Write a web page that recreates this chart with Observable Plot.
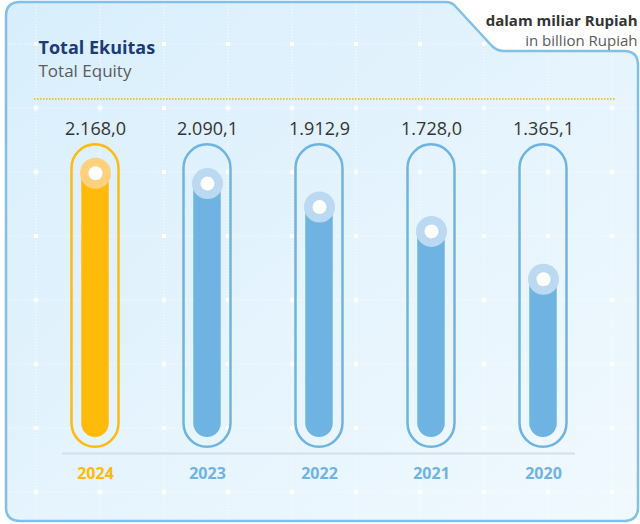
<!DOCTYPE html>
<html><head><meta charset="utf-8">
<script src="https://cdn.jsdelivr.net/npm/d3@7"></script>
<script src="https://cdn.jsdelivr.net/npm/@observablehq/plot@0.6"></script>
<style>
html,body{margin:0;padding:0;background:#ffffff;}
#chart{width:640px;height:524px;}
</style></head><body><div id="chart"></div>
<script>
// ---- data ----
const years = ["2024", "2023", "2022", "2021", "2020"];
const values = [2168.0, 2090.1, 1912.9, 1728.0, 1365.1];
const valueLabels = ["2.168,0", "2.090,1", "1.912,9", "1.728,0", "1.365,1"];
const titleId = "Total Ekuitas";
const titleEn = "Total Equity";
const unitId = "dalam miliar Rupiah";
const unitEn = "in billion Rupiah";

const data = years.map((year, i) => ({year, value: values[i], label: valueLabels[i], current: i === 0}));

// ---- styles ----
const FONT = "'Open Sans', Roboto, sans-serif";
const mainColor = d => d.current ? "#ffba0a" : "#6eb3e2";
const lightColor = d => d.current ? "#ffd17e" : "#bbd9f0";
const trackTop = 2384;   // track extents in value units
const trackBottom = 93;

// decorative card background (not data)
function card() {
  const g = d3.create("svg:g");
  const defs = g.append("defs");
  const grad = defs.append("linearGradient").attr("id", "cardfill")
    .attr("x1", "0").attr("y1", "0").attr("x2", "1").attr("y2", "1");
  grad.append("stop").attr("offset", "0").attr("stop-color", "#d8eefc");
  grad.append("stop").attr("offset", "1").attr("stop-color", "#f1f9fe");
  const r = 14;
  const d = `M6,${2 + r} Q6,2 ${6 + r},2 L446,2 Q452,2 456,7 L492,46 Q497,51 504,51 L${638 - r},51 Q638,51 638,${51 + r} L638,${521 - r} Q638,521 ${638 - r},521 L${6 + r},521 Q6,521 6,${521 - r} Z`;
  defs.append("clipPath").attr("id", "cardclip").append("path").attr("d", d);
  g.append("path").attr("d", d).attr("fill", "url(#cardfill)");
  const grid = g.append("g").attr("clip-path", "url(#cardclip)");
  const gx = d3.range(36, 640, 64), gy = d3.range(44, 524, 64);
  for (const x of gx) grid.append("line").attr("x1", x).attr("x2", x).attr("y1", 0).attr("y2", 524)
    .attr("stroke", "#ffffff").attr("stroke-width", 1).attr("stroke-dasharray", "1,2").attr("opacity", 0.9);
  for (const y of gy) grid.append("line").attr("y1", y).attr("y2", y).attr("x1", 0).attr("x2", 640)
    .attr("stroke", "#ffffff").attr("stroke-width", 1).attr("stroke-dasharray", "1,2").attr("opacity", 0.9);
  for (const x of gx) for (const y of gy)
    grid.append("rect").attr("x", x - 2).attr("y", y - 2).attr("width", 4).attr("height", 4).attr("fill", "#ffffff");
  g.append("path").attr("d", d).attr("fill", "none").attr("stroke", "#82c0e9").attr("stroke-width", 2.5);
  g.append("line").attr("x1", 34).attr("x2", 616).attr("y1", 99).attr("y2", 99)
    .attr("stroke", "#f5b300").attr("stroke-width", 1.5).attr("stroke-dasharray", "1.5,1.5");
  return g.node();
}

const chart = Plot.plot({
  width: 640,
  height: 524,
  margin: 0,
  x: {domain: years, range: [37.75, 600.25], padding: 0, axis: null},
  y: {domain: [0, 2500], range: [459, 129], axis: null},
  color: {type: "identity"},
  style: {background: "transparent", fontFamily: FONT, overflow: "visible"},
  marks: [
    card,
    Plot.ruleY([0], {dy: -6, insetLeft: 62, insetRight: 65, stroke: "#d3e0ea", strokeWidth: 2}),
    Plot.barY(data, {x: "year", y1: trackBottom, y2: trackTop, insetLeft: 32.5, insetRight: 32.5,
      rx: 23.75, fill: "none", stroke: mainColor, strokeWidth: 2.5}),
    Plot.barY(data, {x: "year", y1: 0, y2: "value", insetLeft: 42.25, insetRight: 42.25,
      insetTop: -14, insetBottom: 22, rx: 14, fill: mainColor}),
    Plot.dot(data, {x: "year", y: "value", r: 15.5, fill: lightColor, stroke: null}),
    Plot.dot(data, {x: "year", y: "value", r: 7, fill: "#ffffff", stroke: null}),
    Plot.text(data, {x: "year", y: trackTop, dy: -15.5, text: "label", fontSize: 18, fill: "#333333"}),
    Plot.text(data, {x: "year", y: 0, dy: 14, text: "year", fontSize: 16, fontWeight: "bold", fill: mainColor}),
    Plot.text([titleId], {frameAnchor: "top-left", dx: 38, dy: 41, lineAnchor: "top", textAnchor: "start",
      fontSize: 18, fontWeight: "bold", fill: "#1b3a78"}),
    Plot.text([titleEn], {frameAnchor: "top-left", dx: 38, dy: 64, lineAnchor: "top", textAnchor: "start",
      fontSize: 17, fill: "#5a5a5a"}),
    Plot.text([unitId], {frameAnchor: "top-right", dx: -3, dy: 15, lineAnchor: "top", textAnchor: "end",
      fontSize: 15, fontWeight: "bold", fill: "#333333"}),
    Plot.text([unitEn], {frameAnchor: "top-right", dx: -3, dy: 35, lineAnchor: "top", textAnchor: "end",
      fontSize: 15, fill: "#5a5a5a"})
  ]
});
document.getElementById("chart").appendChild(chart);
</script>
</body></html>
